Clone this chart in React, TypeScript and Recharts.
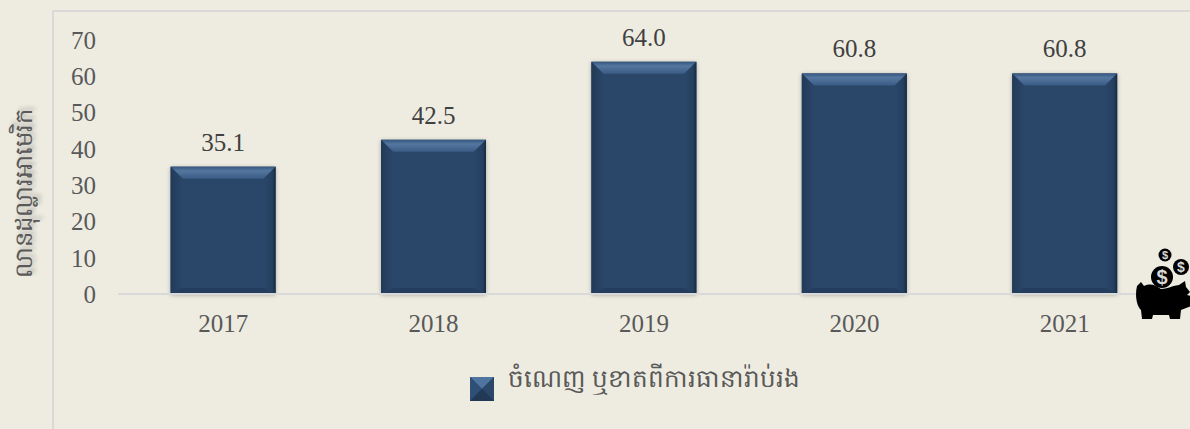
import { BarChart, Bar, XAxis, YAxis, LabelList, Legend } from 'recharts'

const years = ['2017', '2018', '2019', '2020', '2021']
const values = [35.1, 42.5, 64.0, 60.8, 60.8]
const yTicks = [0, 10, 20, 30, 40, 50, 60, 70]
const seriesName = 'ចំណេញ ឬខាតពីការធានារ៉ាប់រង'
const yTitle = 'លានដុល្លារអាមេរិក'

const data = years.map((year, i) => ({ year, value: values[i] }))

const FONT = '"Liberation Serif", serif'
const KHMER = '"Liberation Serif", "DejaVu Serif", serif'
const TEXT = '#595959'

function BevelBar({ x, y, width, height }: any) {
  const b = 12
  return (
    <g>
      <rect x={x} y={y} width={width} height={height} fill="#2a4669" filter="url(#barShadow)" />
      <polygon points={`${x},${y} ${x + width},${y} ${x + width - b},${y + b} ${x + b},${y + b}`} fill="url(#bevelTop)" />
      <polygon points={`${x},${y} ${x + b},${y + b} ${x + b},${y + height - 6} ${x},${y + height}`} fill="url(#bevelLeft)" />
      <polygon points={`${x + width},${y} ${x + width - b},${y + b} ${x + width - b},${y + height - 6} ${x + width},${y + height}`} fill="url(#bevelRight)" />
      <polygon points={`${x},${y + height} ${x + b},${y + height - 6} ${x + width - b},${y + height - 6} ${x + width},${y + height}`} fill="#243d5c" />
    </g>
  )
}

function LegendContent({ payload }: any) {
  return (
    <div style={{ display: 'flex', alignItems: 'center', justifyContent: 'center' }}>
      {(payload || []).map((item: any) => (
        <div key={item.value} style={{ display: 'flex', alignItems: 'center' }}>
          <svg width={24} height={24} style={{ marginTop: 16 }}>
            <rect width={24} height={24} fill="#243d5c" />
            <polygon points="0,0 24,0 12,12" fill="#4f74a0" />
            <polygon points="0,0 12,12 0,24" fill="#2f4f77" />
            <polygon points="24,0 12,12 24,24" fill="#2a4669" />
            <polygon points="0,24 12,12 24,24" fill="#213957" />
          </svg>
          <span style={{ marginLeft: 14, fontFamily: KHMER, fontSize: 24.65, color: TEXT }}>{item.value}</span>
        </div>
      ))}
    </div>
  )
}

function PiggyBank() {
  const dollar = { textAnchor: 'middle' as const, fill: '#d8d8d8', fontFamily: '"Liberation Sans", sans-serif', fontWeight: 700 }
  return (
    <svg width={56} height={74} viewBox="0 0 56 74" style={{ position: 'absolute', left: 1135, top: 248 }}>
      <circle cx={30} cy={7} r={6.5} fill="#000" />
      <text x={30} y={11} fontSize={11} {...dollar}>$</text>
      <circle cx={46} cy={19} r={8} fill="#000" />
      <text x={46} y={24} fontSize={14} {...dollar}>$</text>
      <circle cx={27} cy={29} r={11} fill="#000" />
      <text x={27} y={36} fontSize={20} {...dollar}>$</text>
      <path
        d="M2 38 L6 34 L9 38 C16 35 20 37 26 41 C32 41 36 38 44 37 L50 33 L51 39 L55 44 L52 47 L56 48 L56 58 L46 62 L45 71 L35 71 L34 67 L18 67 L17 71 L7 71 L6 62 C1 57 0 46 2 38 Z"
        fill="#000"
      />
    </svg>
  )
}

export default function App() {
  return (
    <div style={{ position: 'absolute', left: 0, top: 0, width: 1190, height: 429, background: '#eeece1', overflow: 'hidden' }}>
      <div style={{ position: 'absolute', left: 52, top: 10, width: 1138, height: 419, borderLeft: '2px solid #d9d9d9', borderTop: '2px solid #d9d9d9', boxSizing: 'border-box' }} />
      <div
        style={{
          position: 'absolute', left: 26, top: 193, fontFamily: KHMER, fontSize: 24.4, color: TEXT, whiteSpace: 'nowrap',
          transform: 'translate(-50%, -50%) rotate(-90deg)', textShadow: '3px 3px 4px rgba(0,0,0,0.25)',
        }}
      >
        {yTitle}
      </div>
      <BarChart
        width={1190}
        height={429}
        data={data}
        margin={{ top: 40, right: 20, bottom: 105, left: 0 }}
        barCategoryGap="25%"
        style={{ position: 'absolute', left: 0, top: 0 }}
      >
        <defs>
          <linearGradient id="bevelTop" x1="0" y1="0" x2="0" y2="1">
            <stop offset="0" stopColor="#35557f" />
            <stop offset="0.35" stopColor="#54779f" />
            <stop offset="1" stopColor="#3a5b85" />
          </linearGradient>
          <linearGradient id="bevelLeft" x1="0" y1="0" x2="1" y2="0">
            <stop offset="0" stopColor="#223a58" />
            <stop offset="1" stopColor="#2a4669" />
          </linearGradient>
          <linearGradient id="bevelRight" x1="1" y1="0" x2="0" y2="0">
            <stop offset="0" stopColor="#162a42" />
            <stop offset="0.3" stopColor="#25405f" />
            <stop offset="1" stopColor="#2a4669" />
          </linearGradient>
          <filter id="barShadow" x="-10%" y="-10%" width="120%" height="120%">
            <feDropShadow dx="0" dy="1" stdDeviation="2" floodColor="#000" floodOpacity="0.3" />
          </filter>
        </defs>
        <XAxis
          dataKey="year"
          height={30}
          axisLine={{ stroke: '#d9d9d9', strokeWidth: 2 }}
          tickLine={false}
          tickMargin={14}
          tick={{ fill: TEXT, fontSize: 25, fontFamily: FONT }}
        />
        <YAxis
          width={118}
          domain={[0, 70]}
          ticks={yTicks}
          axisLine={false}
          tickLine={false}
          tickMargin={16}
          tick={{ fill: TEXT, fontSize: 25, fontFamily: FONT }}
        />
        <Legend
          verticalAlign="middle"
          content={<LegendContent />}
          wrapperStyle={{ top: 361, left: 0, width: 1270 }}
        />
        <Bar dataKey="value" name={seriesName} shape={<BevelBar />} isAnimationActive={false}>
          <LabelList
            dataKey="value"
            position="top"
            offset={16}
            formatter={(v: any) => Number(v).toFixed(1)}
            style={{ fill: '#404040', fontSize: 25, fontFamily: FONT }}
          />
        </Bar>
      </BarChart>
      <PiggyBank />
    </div>
  )
}
